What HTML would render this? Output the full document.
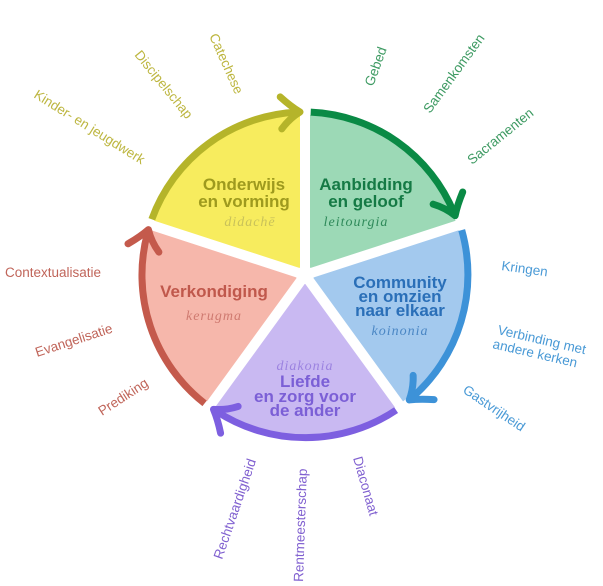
<!DOCTYPE html>
<html><head><meta charset="utf-8"><style>
html,body{margin:0;padding:0;background:#fff;}
svg{display:block;}
.o{font-family:"Liberation Sans",sans-serif;font-size:13.5px;}
.b{font-family:"Liberation Sans",sans-serif;font-size:17px;font-weight:bold;text-anchor:middle;}
.s{font-family:"Liberation Serif",serif;font-style:italic;font-size:14px;text-anchor:middle;letter-spacing:1px;}
</style></head><body>
<svg width="603" height="586" viewBox="0 0 603 586" xmlns="http://www.w3.org/2000/svg">
<defs>
<marker id="my" markerUnits="userSpaceOnUse" markerWidth="44" markerHeight="44" refX="22" refY="22" orient="auto" viewBox="0 0 44 44"><path d="M6 6 Q16 16 25 22 Q14 28 6 38" fill="none" stroke="#b5b42a" stroke-width="7" stroke-linejoin="round" stroke-linecap="round"/></marker>
<marker id="mg" markerUnits="userSpaceOnUse" markerWidth="44" markerHeight="44" refX="22" refY="22" orient="auto" viewBox="0 0 44 44"><path d="M6 6 Q16 16 25 22 Q14 28 6 38" fill="none" stroke="#0a8a45" stroke-width="7" stroke-linejoin="round" stroke-linecap="round"/></marker>
<marker id="mb" markerUnits="userSpaceOnUse" markerWidth="44" markerHeight="44" refX="22" refY="22" orient="auto" viewBox="0 0 44 44"><path d="M6 6 Q16 16 25 22 Q14 28 6 38" fill="none" stroke="#3d92d8" stroke-width="7" stroke-linejoin="round" stroke-linecap="round"/></marker>
<marker id="mp" markerUnits="userSpaceOnUse" markerWidth="44" markerHeight="44" refX="22" refY="22" orient="auto" viewBox="0 0 44 44"><path d="M6 6 Q16 16 25 22 Q14 28 6 38" fill="none" stroke="#7d5fe0" stroke-width="7" stroke-linejoin="round" stroke-linecap="round"/></marker>
<marker id="mr" markerUnits="userSpaceOnUse" markerWidth="44" markerHeight="44" refX="22" refY="22" orient="auto" viewBox="0 0 44 44"><path d="M6 6 Q16 16 25 22 Q14 28 6 38" fill="none" stroke="#c45a4c" stroke-width="7" stroke-linejoin="round" stroke-linecap="round"/></marker>
</defs>
<path d="M305 275 L152.8 225.6 A160 160 0 0 1 305 115 Z" fill="#f7ec5e"/>
<path d="M305 275 L305 115 A160 160 0 0 1 457.2 225.6 Z" fill="#9cd9b6"/>
<path d="M305 275 L457.2 225.6 A160 160 0 0 1 399 404.4 Z" fill="#a3c9ee"/>
<path d="M305 275 L399 404.4 A160 160 0 0 1 211 404.4 Z" fill="#c9b9f2"/>
<path d="M305 275 L211 404.4 A160 160 0 0 1 152.8 225.6 Z" fill="#f6b7ab"/>
<g stroke="#fff" stroke-width="10">
<line x1="305" y1="275" x2="305" y2="95"/>
<line x1="305" y1="275" x2="476" y2="219.4"/>
<line x1="305" y1="275" x2="410.8" y2="420.6"/>
<line x1="305" y1="275" x2="199.2" y2="420.6"/>
<line x1="305" y1="275" x2="134" y2="219.4"/>
</g>
<circle cx="305" cy="275" r="9" fill="#fff"/>
<g fill="none" stroke-width="7" stroke-linecap="butt">
<path d="M151.8 219.3 A163 163 0 0 1 297 112.1" stroke="#b5b42a" marker-end="url(#my)"/>
<path d="M310.7 112.1 A163 163 0 0 1 454 212.9" stroke="#0a8a45" marker-end="url(#mg)"/>
<path d="M461.7 230.1 A163 163 0 0 1 411.5 398" stroke="#3d92d8" marker-end="url(#mb)"/>
<path d="M396.1 410.1 A163 163 0 0 1 216 411" stroke="#7d5fe0" marker-end="url(#mp)"/>
<path d="M204.6 403.4 A163 163 0 0 1 147.6 232.5" stroke="#c45a4c" marker-end="url(#mr)"/>
</g>
<text class="b" fill="#9e9a1e"><tspan x="244" y="190">Onderwijs</tspan><tspan x="244" y="207">en vorming</tspan></text>
<text class="s" x="250" y="226" fill="#c9c25a">didachē</text>
<text class="b" fill="#157a45"><tspan x="366" y="190">Aanbidding</tspan><tspan x="366" y="207">en geloof</tspan></text>
<text class="s" x="356" y="226" fill="#2f8a5a">leitourgia</text>
<text class="b" fill="#2a6fb8"><tspan x="400" y="288">Community</tspan><tspan x="400" y="302">en omzien</tspan><tspan x="400" y="316">naar elkaar</tspan></text>
<text class="s" x="400" y="335" fill="#4a86c4">koinonia</text>
<text class="b" fill="#c0584c"><tspan x="214" y="297">Verkondiging</tspan></text>
<text class="s" x="214" y="320" fill="#cf7a70">kerugma</text>
<text class="s" x="305" y="370" fill="#9b82e0">diakonia</text>
<text class="b" fill="#7b5fd6"><tspan x="305" y="387">Liefde</tspan><tspan x="305" y="402">en zorg voor</tspan><tspan x="305" y="416">de ander</tspan></text>
<g class="o" fill="#bdb640">
<text transform="translate(33,97) rotate(32)">Kinder- en jeugdwerk</text>
<text transform="translate(134,55) rotate(51)">Discipelschap</text>
<text transform="translate(209,36) rotate(66)">Catechese</text>
</g>
<g class="o" fill="#3d9a62">
<text transform="translate(373,87) rotate(-70)">Gebed</text>
<text transform="translate(430,114) rotate(-54)">Samenkomsten</text>
<text transform="translate(472,165) rotate(-39)">Sacramenten</text>
</g>
<g class="o" fill="#4a9ad6">
<text transform="translate(501,270) rotate(8)">Kringen</text>
<text transform="translate(497,334) rotate(13)">Verbinding met</text>
<text transform="translate(492,348) rotate(13)">andere kerken</text>
<text transform="translate(462,392) rotate(34)">Gastvrijheid</text>
</g>
<g class="o" fill="#8060d0">
<text transform="translate(353,458) rotate(74)">Diaconaat</text>
<text transform="translate(303,582) rotate(-88)">Rentmeesterschap</text>
<text transform="translate(222,560) rotate(-71)">Rechtvaardigheid</text>
</g>
<g class="o" fill="#c0655a">
<text x="5" y="277">Contextualisatie</text>
<text transform="translate(37,357) rotate(-18)">Evangelisatie</text>
<text transform="translate(102,416) rotate(-33)">Prediking</text>
</g>
</svg>
</body></html>
